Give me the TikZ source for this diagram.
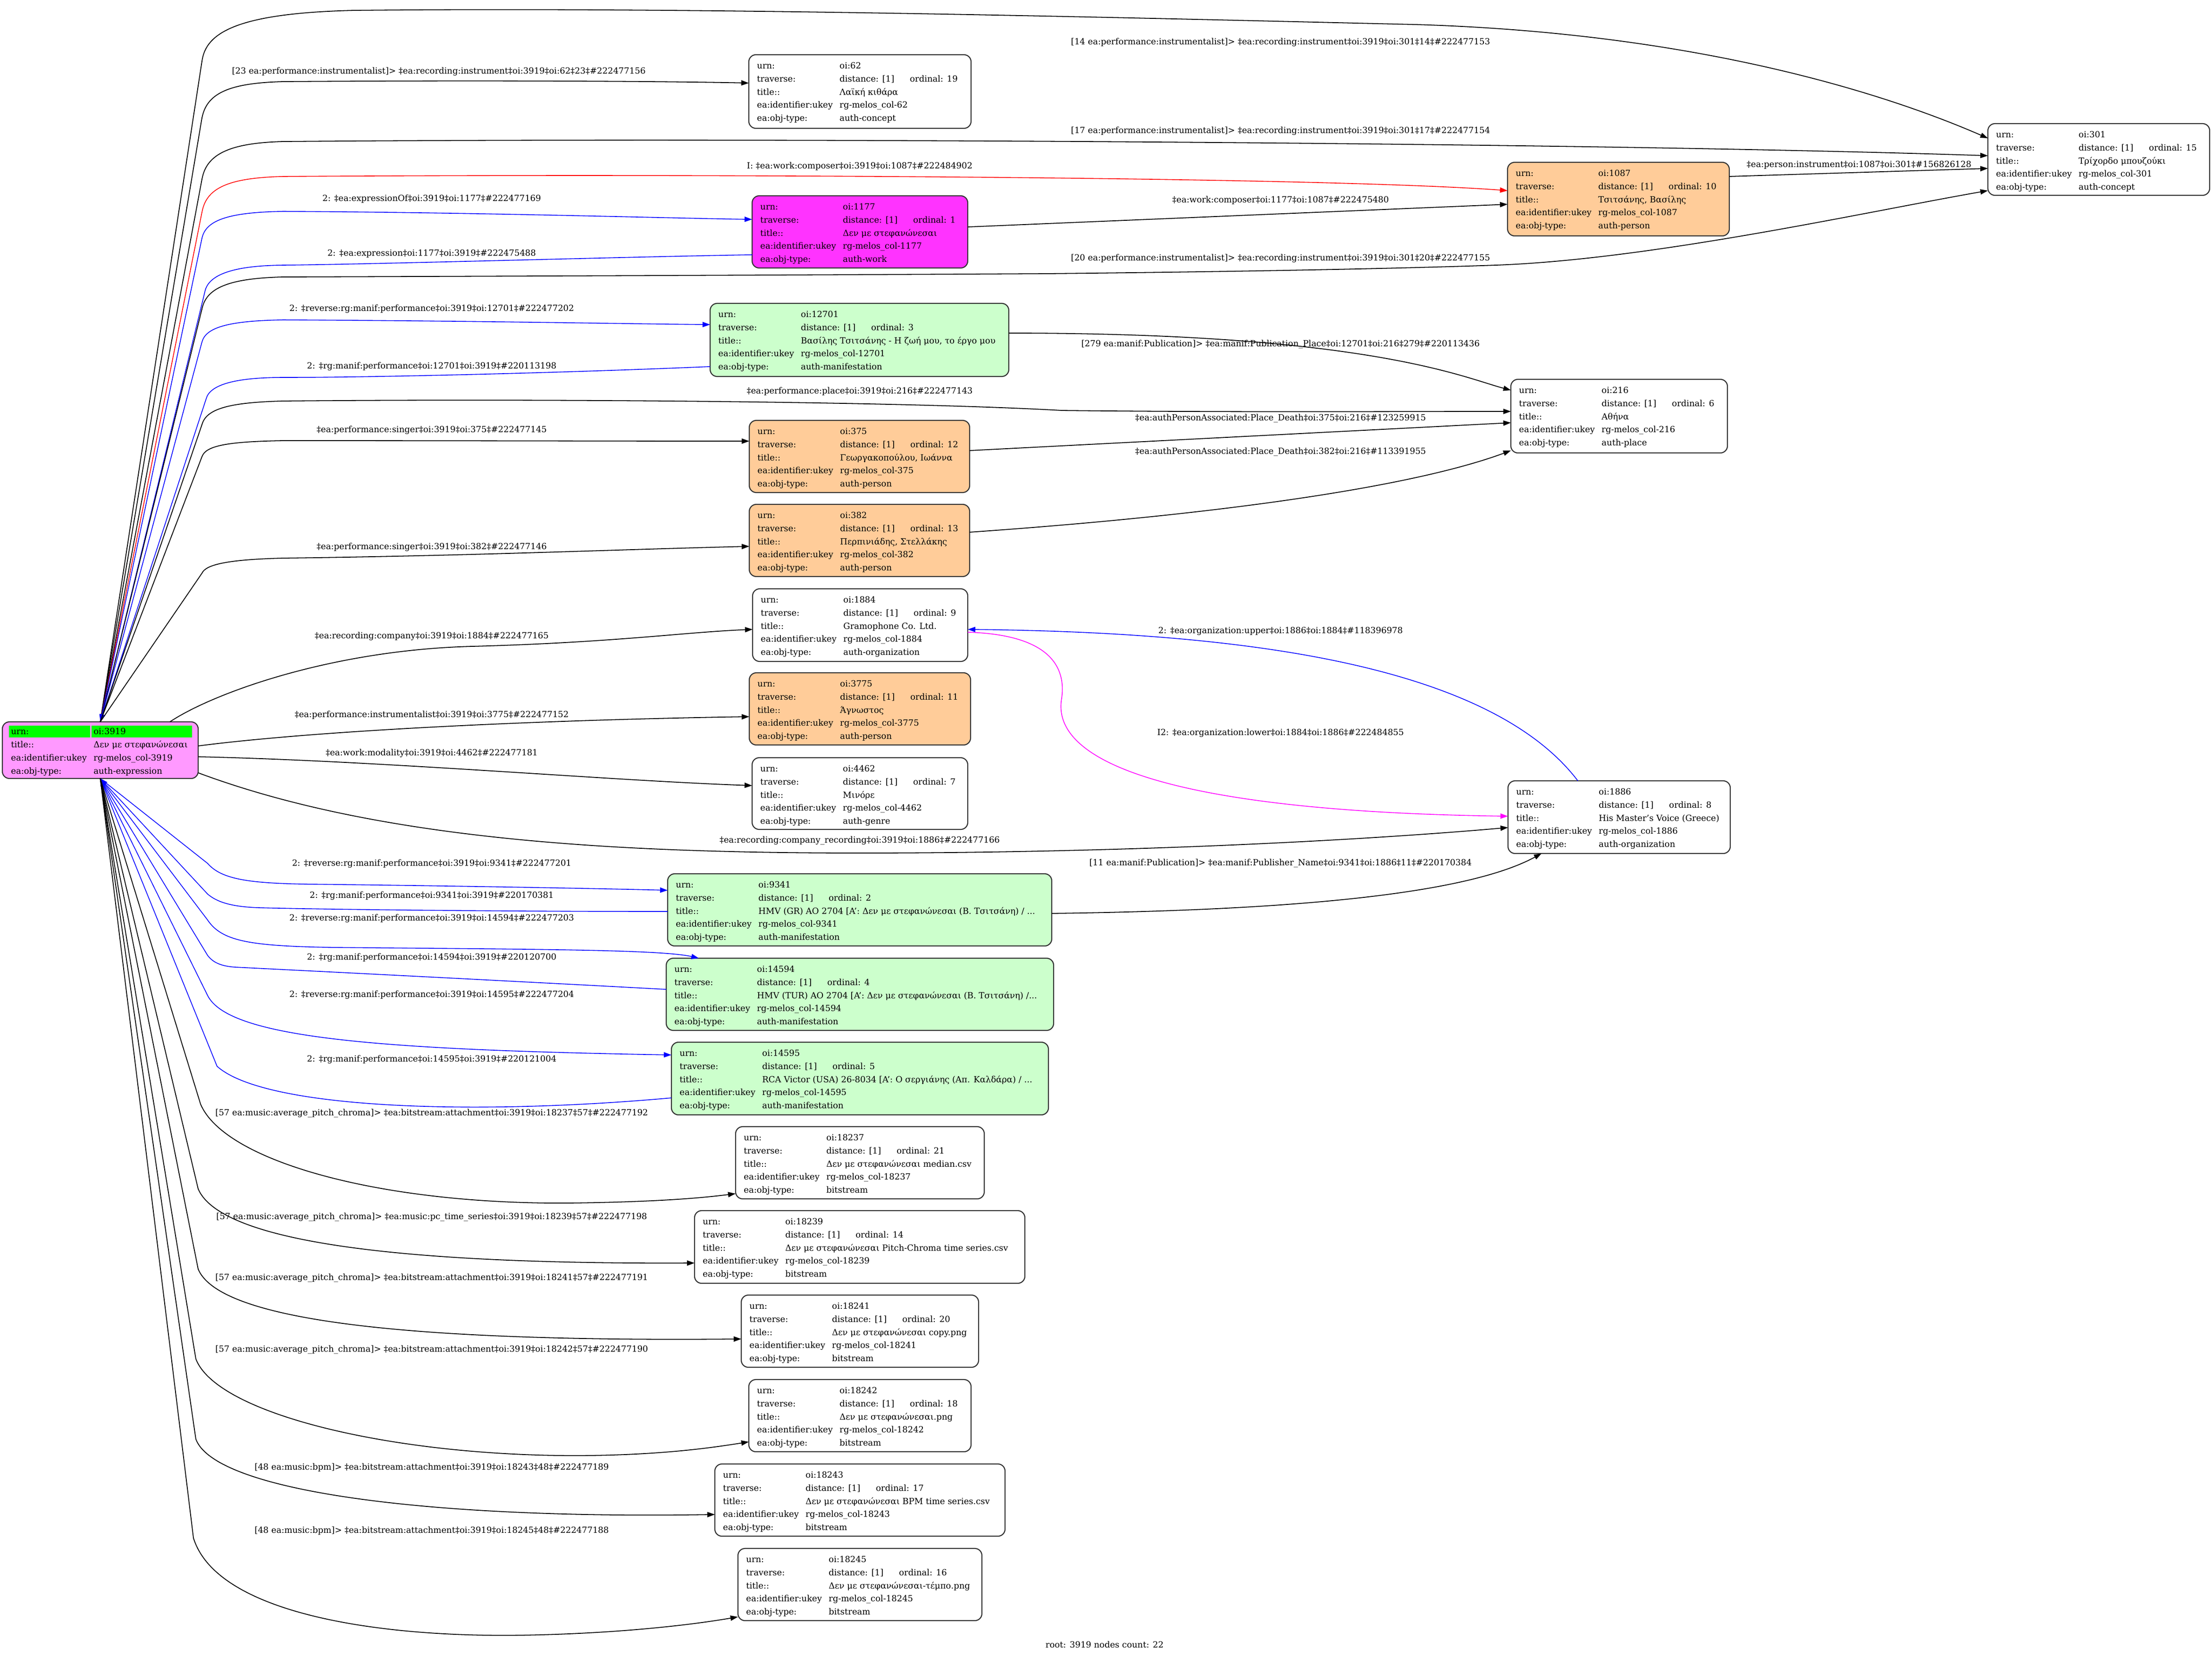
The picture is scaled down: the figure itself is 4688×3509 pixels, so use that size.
\documentclass[tikz,border=0pt]{standalone}
\usepackage{fontspec}
\setmainfont{DejaVu Serif}
\usetikzlibrary{arrows.meta}
\newcommand\nfont{\fontsize{9pt}{11pt}\selectfont}
\definecolor{orangefill}{HTML}{FFCC99}
\definecolor{greenfill}{HTML}{CCFFCC}
\definecolor{magfill}{HTML}{FF33FF}
\definecolor{rootfill}{HTML}{FF99FF}
\definecolor{hlgreen}{HTML}{00FF00}
\definecolor{edgemag}{HTML}{FF00FF}
\tikzset{
  ebox/.style={draw=black!80, line width=1.1pt, rounded corners=7.5pt, inner sep=0pt, outer sep=0pt},
  cell/.style={anchor=base west, inner sep=0pt, font=\nfont},
  elab/.style={inner sep=0pt, font=\nfont},
  e/.style={draw=black, line width=0.9pt, -{Triangle[length=8pt,width=5.5pt]}},
  eb/.style={e, draw=blue, line width=0.8pt},
  er/.style={e, draw=red, line width=0.8pt},
  em/.style={e, draw=edgemag, line width=0.8pt},
}
\newcommand\mkbox[6]{%
  \node[ebox, fill=#6, anchor=north west, minimum width={(#4-#2)*0.5pt}, minimum height={(#5-#3)*0.5pt}] (#1) at (#2,#3) {};}
\newcommand\rows[6]{%
  \path (#1.north west) ++(17,29.5) node[cell] (#1-1a) {urn:} ++(175,0) node[cell] (#1-1b) {#2}
    ++(-175,27.75) node[cell] (#1-2a) {traverse:} ++(175,0) node[cell] (#1-2b) {\makebox[74.5pt][l]{distance: [1]}ordinal: #3}
    ++(-175,27.75) node[cell] (#1-3a) {title::} ++(175,0) node[cell] (#1-3b) {#4}
    ++(-175,27.75) node[cell] (#1-4a) {ea:identifier:ukey} ++(175,0) node[cell] (#1-4b) {#5}
    ++(-175,27.75) node[cell] (#1-5a) {ea:obj-type:} ++(175,0) node[cell] (#1-5b) {#6};}
\begin{document}
\begin{tikzpicture}[x=0.5pt,y=-0.5pt]
\useasboundingbox (0,0) rectangle (4688,3509);
\fill[white] (0,0) rectangle (4688,3509);

% ---------- boxes ----------
\mkbox{root}{5}{1530}{420}{1650}{rootfill}
\mkbox{n62}{1587}{116}{2058}{272}{white}
\mkbox{n301}{4213}{262}{4683}{414}{white}
\mkbox{n1087}{3195}{344}{3665}{500}{orangefill}
\mkbox{n1177}{1594}{415}{2051}{568}{magfill}
\mkbox{n12701}{1505}{643}{2138}{798}{greenfill}
\mkbox{n216}{3202}{804}{3661}{960}{white}
\mkbox{n375}{1588}{891}{2055}{1044}{orangefill}
\mkbox{n382}{1588}{1069}{2055}{1222}{orangefill}
\mkbox{n1884}{1595}{1248}{2051}{1402}{white}
\mkbox{n3775}{1588}{1426}{2057}{1579}{orangefill}
\mkbox{n4462}{1594}{1606}{2051}{1758}{white}
\mkbox{n1886}{3196}{1655}{3667}{1809}{white}
\mkbox{n9341}{1415}{1852}{2229}{2005}{greenfill}
\mkbox{n14594}{1412}{2031}{2233}{2184}{greenfill}
\mkbox{n14595}{1423}{2209}{2222}{2363}{greenfill}
\mkbox{n18237}{1559}{2388}{2086}{2541}{white}
\mkbox{n18239}{1472}{2566}{2172}{2720}{white}
\mkbox{n18241}{1571}{2745}{2074}{2898}{white}
\mkbox{n18242}{1587}{2924}{2058}{3077}{white}
\mkbox{n18243}{1515}{3103}{2130}{3256}{white}
\mkbox{n18245}{1564}{3282}{2081}{3435}{white}

% ---------- edges from root, top ----------
\draw[e] (root.north) -- (428,130) .. controls (436,70) and (500,28) .. (750,22) .. controls (1500,14) and (2400,38) .. (3000,52) .. controls (3600,70) and (4000,200) .. (n301.west |- 0,293);
\draw[e] (root.north) -- (428,250) .. controls (438,200) and (480,176) .. (600,173) .. controls (1000,170) and (1400,172) .. (n62.west |- 0,176);
\draw[e] (root.north) -- (428,380) .. controls (437,330) and (480,303) .. (600,300) .. controls (1500,292) and (3300,300) .. (n301.west |- 0,330);
\draw[er] (root.north) -- (428,450) .. controls (437,400) and (480,377) .. (600,374) .. controls (1500,368) and (2800,375) .. (n1087.west |- 0,404);
\draw[eb] (root.north) -- (428,505) .. controls (436,468) and (480,450) .. (600,448) .. controls (1000,450) and (1400,462) .. (n1177.west |- 0,465);
\draw[eb] (n1177.west |- 0,540) .. controls (1300,545) and (800,560) .. (600,562) .. controls (500,563) and (445,580) .. (435,615) -- (root.north);
\draw[e] (root.north) -- (428,655) .. controls (437,612) and (480,590) .. (600,587) .. controls (1200,585) and (1900,582) .. (2222,580) .. controls (2700,575) and (3000,568) .. (3170,562) .. controls (3500,550) and (3950,450) .. (n301.west |- 0,404);
\draw[eb] (root.north) -- (428,725) .. controls (436,695) and (480,680) .. (600,678) .. controls (1000,680) and (1300,686) .. (n12701.west |- 0,688);
\draw[eb] (n12701.west |- 0,777) .. controls (1200,790) and (800,800) .. (600,800) .. controls (500,800) and (445,815) .. (437,845) -- (root.north);
\draw[e] (root.north) -- (428,900) .. controls (437,868) and (480,853) .. (600,850) .. controls (1100,845) and (1900,850) .. (2251,870) .. controls (2600,874) and (2950,872) .. (n216.west |- 0,872);
\draw[e] (root.north) -- (428,968) .. controls (436,945) and (480,936) .. (600,934) .. controls (1000,934) and (1300,935) .. (n375.west |- 0,935);
\draw[e] (root.north) -- (428,1215) .. controls (436,1197) and (480,1186) .. (600,1183) .. controls (1000,1178) and (1300,1165) .. (n382.west |- 0,1158);
\draw[e] (root.north -| 360,0) .. controls (450,1470) and (700,1378) .. (1000,1370) .. controls (1300,1362) and (1450,1340) .. (n1884.west |- 0,1334);
% ---------- edges from root, right ----------
\draw[e] (root.east |- 0,1581) .. controls (700,1545) and (1200,1525) .. (n3775.west |- 0,1519);
\draw[e] (root.east |- 0,1604) .. controls (800,1612) and (1300,1655) .. (n4462.west |- 0,1665);
\draw[e] (root.east |- 0,1638) .. controls (800,1780) and (1300,1808) .. (1822,1808) .. controls (2400,1808) and (2900,1780) .. (n1886.west |- 0,1754);
% ---------- edges from root, bottom ----------
\draw[eb] (root.south) -- (440,1830) .. controls (468,1862) and (520,1872) .. (650,1874) .. controls (1000,1878) and (1300,1884) .. (n9341.west |- 0,1887);
\draw[eb] (n9341.west |- 0,1932) .. controls (1100,1932) and (700,1928) .. (550,1924) .. controls (490,1922) and (460,1912) .. (440,1895) -- (root.south);
\draw[eb] (root.south) -- (440,1950) .. controls (470,1995) and (530,2005) .. (700,2008) .. controls (1100,2012) and (1400,2012) .. (n14594.north -| 1481,0);
\draw[eb] (n14594.west |- 0,2097) .. controls (1000,2075) and (600,2055) .. (500,2050) .. controls (465,2048) and (450,2038) .. (440,2025) -- (root.south);
\draw[eb] (root.south) -- (440,2110) .. controls (485,2200) and (800,2225) .. (n14595.west |- 0,2236);
\draw[eb] (n14595.west |- 0,2327) .. controls (1000,2365) and (560,2350) .. (460,2260) -- (root.south);
\draw[e] (root.south) -- (425,2340) .. controls (475,2460) and (800,2552) .. (1200,2550) .. controls (1380,2548) and (1480,2540) .. (n18237.west |- 0,2530);
\draw[e] (root.south) -- (420,2520) .. controls (465,2625) and (800,2680) .. (n18239.west |- 0,2677);
\draw[e] (root.south) -- (420,2690) .. controls (462,2790) and (800,2845) .. (n18241.west |- 0,2838);
\draw[e] (root.south) -- (415,2880) .. controls (460,3000) and (850,3090) .. (1250,3085) .. controls (1400,3083) and (1500,3070) .. (n18242.west |- 0,3056);
\draw[e] (root.south) -- (415,3050) .. controls (455,3160) and (900,3220) .. (n18243.west |- 0,3210);
\draw[e] (root.south) -- (410,3260) .. controls (460,3420) and (800,3470) .. (1100,3466) .. controls (1300,3463) and (1460,3445) .. (n18245.west |- 0,3427);
% ---------- other edges ----------
\draw[e] (n1177.east |- 0,481) -- (n1087.west |- 0,433);
\draw[e] (n1087.east |- 0,374) -- (n301.west |- 0,357);
\draw[e] (n12701.east |- 0,706) .. controls (2900,706) and (3100,800) .. (n216.west |- 0,827);
\draw[e] (n375.east |- 0,955) -- (n216.west |- 0,896);
\draw[e] (n382.east |- 0,1128) .. controls (2600,1090) and (3000,1030) .. (n216.west |- 0,955);
\draw[eb] (n1886.north -| 3344,0) .. controls (3150,1400) and (2600,1340) .. (n1884.east |- 0,1334);
\draw[em] (n1884.east |- 0,1340) .. controls (2220,1345) and (2260,1410) .. (2250,1480) .. controls (2225,1620) and (2500,1720) .. (n1886.west |- 0,1730);
\draw[e] (n9341.east |- 0,1936) .. controls (2700,1930) and (3100,1900) .. (n1886.south -| 3267,0);

% ---------- root content ----------
\fill[hlgreen] (19,1538) rectangle (191,1563);
\fill[hlgreen] (194,1538) rectangle (407,1563);
\path (root.north west) ++(18,26.5) node[cell] (root-1a) {urn:} ++(175,0) node[cell] (root-1b) {oi:3919}
  ++(-175,28) node[cell] (root-2a) {title::} ++(175,0) node[cell] (root-2b) {Δεν με στεφανώνεσαι}
  ++(-175,28) node[cell] (root-3a) {ea:identifier:ukey} ++(175,0) node[cell] (root-3b) {rg-melos\_col-3919}
  ++(-175,28) node[cell] (root-4a) {ea:obj-type:} ++(175,0) node[cell] (root-4b) {auth-expression};

% ---------- node contents ----------
\rows{n62}{oi:62}{19}{Λαϊκή κιθάρα}{rg-melos\_col-62}{auth-concept}
\rows{n301}{oi:301}{15}{Τρίχορδο μπουζούκι}{rg-melos\_col-301}{auth-concept}
\rows{n1087}{oi:1087}{10}{Τσιτσάνης, Βασίλης}{rg-melos\_col-1087}{auth-person}
\rows{n1177}{oi:1177}{1}{Δεν με στεφανώνεσαι}{rg-melos\_col-1177}{auth-work}
\rows{n12701}{oi:12701}{3}{Βασίλης Τσιτσάνης - Η ζωή μου, το έργο μου}{rg-melos\_col-12701}{auth-manifestation}
\rows{n216}{oi:216}{6}{Αθήνα}{rg-melos\_col-216}{auth-place}
\rows{n375}{oi:375}{12}{Γεωργακοπούλου, Ιωάννα}{rg-melos\_col-375}{auth-person}
\rows{n382}{oi:382}{13}{Περπινιάδης, Στελλάκης}{rg-melos\_col-382}{auth-person}
\rows{n1884}{oi:1884}{9}{Gramophone Co. Ltd.}{rg-melos\_col-1884}{auth-organization}
\rows{n3775}{oi:3775}{11}{Άγνωστος}{rg-melos\_col-3775}{auth-person}
\rows{n4462}{oi:4462}{7}{Μινόρε}{rg-melos\_col-4462}{auth-genre}
\rows{n1886}{oi:1886}{8}{His Master's Voice (Greece)}{rg-melos\_col-1886}{auth-organization}
\rows{n9341}{oi:9341}{2}{HMV (GR) AO 2704 [A': Δεν με στεφανώνεσαι (Β. Τσιτσάνη) / ...}{rg-melos\_col-9341}{auth-manifestation}
\rows{n14594}{oi:14594}{4}{HMV (TUR) AO 2704 [A': Δεν με στεφανώνεσαι (Β. Τσιτσάνη) /...}{rg-melos\_col-14594}{auth-manifestation}
\rows{n14595}{oi:14595}{5}{RCA Victor (USA) 26-8034 [A': Ο σεργιάνης (Απ. Καλδάρα) / ...}{rg-melos\_col-14595}{auth-manifestation}
\rows{n18237}{oi:18237}{21}{Δεν με στεφανώνεσαι median.csv}{rg-melos\_col-18237}{bitstream}
\rows{n18239}{oi:18239}{14}{Δεν με στεφανώνεσαι Pitch-Chroma time series.csv}{rg-melos\_col-18239}{bitstream}
\rows{n18241}{oi:18241}{20}{Δεν με στεφανώνεσαι copy.png}{rg-melos\_col-18241}{bitstream}
\rows{n18242}{oi:18242}{18}{Δεν με στεφανώνεσαι.png}{rg-melos\_col-18242}{bitstream}
\rows{n18243}{oi:18243}{17}{Δεν με στεφανώνεσαι BPM time series.csv}{rg-melos\_col-18243}{bitstream}
\rows{n18245}{oi:18245}{16}{Δεν με στεφανώνεσαι-τέμπο.png}{rg-melos\_col-18245}{bitstream}

% ---------- edge labels ----------
\node[elab] (l1) at (2714,90) {[14 ea:performance:instrumentalist]> ‡ea:recording:instrument‡oi:3919‡oi:301‡14‡\#222477153};
\node[elab] (l2) at (930,152) {[23 ea:performance:instrumentalist]> ‡ea:recording:instrument‡oi:3919‡oi:62‡23‡\#222477156};
\node[elab] (l3) at (2714,278) {[17 ea:performance:instrumentalist]> ‡ea:recording:instrument‡oi:3919‡oi:301‡17‡\#222477154};
\node[elab] (l4) at (1822,353) {I: ‡ea:work:composer‡oi:3919‡oi:1087‡\#222484902};
\node[elab] (l5) at (915,422) {2: ‡ea:expressionOf‡oi:3919‡oi:1177‡\#222477169};
\node[elab] (l6) at (915,538) {2: ‡ea:expression‡oi:1177‡oi:3919‡\#222475488};
\node[elab] (l7) at (2714,425) {‡ea:work:composer‡oi:1177‡oi:1087‡\#222475480};
\node[elab] (l8) at (3940,350) {‡ea:person:instrument‡oi:1087‡oi:301‡\#156826128};
\node[elab] (l9) at (2714,548) {[20 ea:performance:instrumentalist]> ‡ea:recording:instrument‡oi:3919‡oi:301‡20‡\#222477155};
\node[elab] (l10) at (915,655) {2: ‡reverse:rg:manif:performance‡oi:3919‡oi:12701‡\#222477202};
\node[elab] (l11) at (915,777) {2: ‡rg:manif:performance‡oi:12701‡oi:3919‡\#220113198};
\node[elab] (l12) at (2714,730) {[279 ea:manif:Publication]> ‡ea:manif:Publication\_Place‡oi:12701‡oi:216‡279‡\#220113436};
\node[elab] (l13) at (1822,830) {‡ea:performance:place‡oi:3919‡oi:216‡\#222477143};
\node[elab] (l14) at (915,912) {‡ea:performance:singer‡oi:3919‡oi:375‡\#222477145};
\node[elab] (l15) at (2714,887) {‡ea:authPersonAssociated:Place\_Death‡oi:375‡oi:216‡\#123259915};
\node[elab] (l16) at (915,1160) {‡ea:performance:singer‡oi:3919‡oi:382‡\#222477146};
\node[elab] (l17) at (2714,958) {‡ea:authPersonAssociated:Place\_Death‡oi:382‡oi:216‡\#113391955};
\node[elab] (l18) at (915,1349) {‡ea:recording:company‡oi:3919‡oi:1884‡\#222477165};
\node[elab] (l19) at (915,1516) {‡ea:performance:instrumentalist‡oi:3919‡oi:3775‡\#222477152};
\node[elab] (l20) at (915,1597) {‡ea:work:modality‡oi:3919‡oi:4462‡\#222477181};
\node[elab] (l21) at (1822,1782) {‡ea:recording:company\_recording‡oi:3919‡oi:1886‡\#222477166};
\node[elab] (l22) at (2714,1338) {2: ‡ea:organization:upper‡oi:1886‡oi:1884‡\#118396978};
\node[elab] (l23) at (2714,1554) {I2: ‡ea:organization:lower‡oi:1884‡oi:1886‡\#222484855};
\node[elab] (l24) at (2714,1830) {[11 ea:manif:Publication]> ‡ea:manif:Publisher\_Name‡oi:9341‡oi:1886‡11‡\#220170384};
\node[elab] (l25) at (915,1831) {2: ‡reverse:rg:manif:performance‡oi:3919‡oi:9341‡\#222477201};
\node[elab] (l26) at (915,1899) {2: ‡rg:manif:performance‡oi:9341‡oi:3919‡\#220170381};
\node[elab] (l27) at (915,1947) {2: ‡reverse:rg:manif:performance‡oi:3919‡oi:14594‡\#222477203};
\node[elab] (l28) at (915,2030) {2: ‡rg:manif:performance‡oi:14594‡oi:3919‡\#220120700};
\node[elab] (l29) at (915,2109) {2: ‡reverse:rg:manif:performance‡oi:3919‡oi:14595‡\#222477204};
\node[elab] (l30) at (915,2246) {2: ‡rg:manif:performance‡oi:14595‡oi:3919‡\#220121004};
\node[elab] (l31) at (915,2360) {[57 ea:music:average\_pitch\_chroma]> ‡ea:bitstream:attachment‡oi:3919‡oi:18237‡57‡\#222477192};
\node[elab] (l32) at (915,2580) {[57 ea:music:average\_pitch\_chroma]> ‡ea:music:pc\_time\_series‡oi:3919‡oi:18239‡57‡\#222477198};
\node[elab] (l33) at (915,2709) {[57 ea:music:average\_pitch\_chroma]> ‡ea:bitstream:attachment‡oi:3919‡oi:18241‡57‡\#222477191};
\node[elab] (l34) at (915,2861) {[57 ea:music:average\_pitch\_chroma]> ‡ea:bitstream:attachment‡oi:3919‡oi:18242‡57‡\#222477190};
\node[elab] (l35) at (915,3110) {[48 ea:music:bpm]> ‡ea:bitstream:attachment‡oi:3919‡oi:18243‡48‡\#222477189};
\node[elab] (l36) at (915,3244) {[48 ea:music:bpm]> ‡ea:bitstream:attachment‡oi:3919‡oi:18245‡48‡\#222477188};

\node[elab] (footer) at (2341,3486) {root: 3919 nodes count: 22};
\end{tikzpicture}
\end{document}
